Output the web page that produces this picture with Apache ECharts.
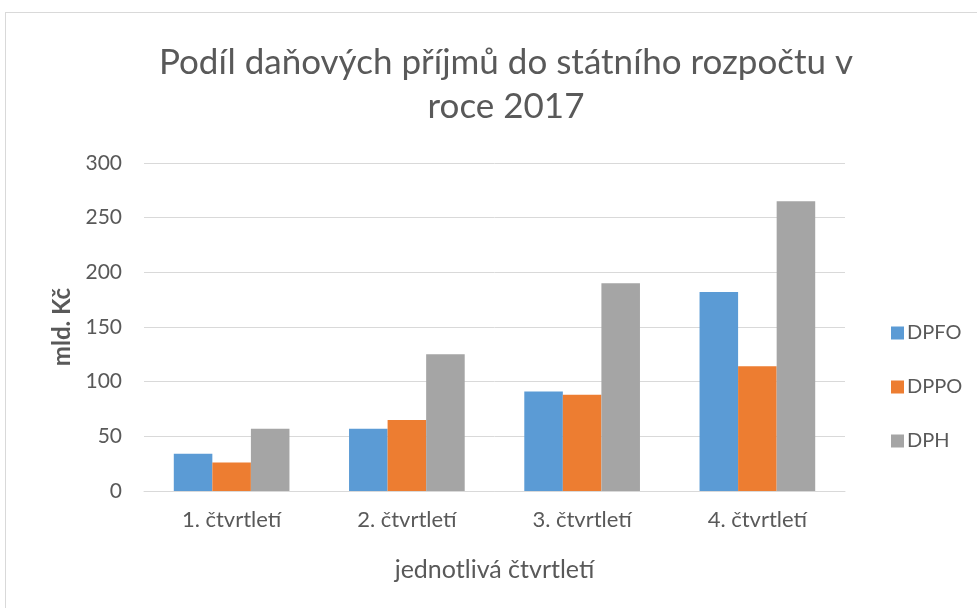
<!DOCTYPE html>
<html>
<head>
<meta charset="utf-8">
<script src="https://cdn.jsdelivr.net/npm/echarts@6/dist/echarts.min.js"></script>
<style>
  html, body { margin: 0; padding: 0; background: #fff; }
  #frame { position: absolute; left: 5px; top: 12px; width: 1000px; height: 700px; border: 1px solid #D9D9D9; box-sizing: border-box; }
  #chart { position: absolute; left: 0; top: 0; width: 977px; height: 608px; }
</style>
</head>
<body>
<div id="frame"></div>
<div id="chart"></div>
<script>
const titleText = 'Podíl daňových příjmů do státního rozpočtu v\nroce 2017';
const categories = ['1. čtvrtletí', '2. čtvrtletí', '3. čtvrtletí', '4. čtvrtletí'];
const dpfo = [34, 57, 91, 182];
const dppo = [26, 65, 88, 114];
const dph = [57, 125, 190, 265];
const yTicks = [0, 50, 100, 150, 200, 250, 300];
const xAxisName = 'jednotlivá čtvrtletí';
const yAxisName = 'mld. Kč';

const font = 'Lato, "Open Sans", sans-serif';
const chart = echarts.init(document.getElementById('chart'), null, { renderer: 'canvas' });
chart.setOption({
  animation: false,
  color: ['#5B9BD5', '#ED7D31', '#A5A5A5'],
  title: {
    text: titleText,
    left: 501, top: 36,
    textAlign: 'center',
    textStyle: { fontFamily: font, fontSize: 35, fontWeight: 'normal', color: '#595959', lineHeight: 44, align: 'center' }
  },
  legend: {
    orient: 'vertical',
    left: 886, top: 318,
    itemWidth: 13, itemHeight: 13, itemGap: 34,
    icon: 'rect',
    textStyle: { fontFamily: font, fontSize: 20, color: '#595959', padding: [0, 0, 0, -2] },
    data: ['DPFO', 'DPPO', 'DPH']
  },
  grid: { left: 144, right: 132, top: 163, bottom: 117, containLabel: false },
  xAxis: {
    type: 'category',
    data: categories,
    axisLine: { lineStyle: { color: '#D9D9D9', width: 1 } },
    axisTick: { show: false },
    axisLabel: { fontFamily: font, fontSize: 22, color: '#595959', margin: 18 },
    name: xAxisName,
    nameLocation: 'middle',
    nameGap: 66,
    nameTextStyle: { fontFamily: font, fontSize: 25, color: '#595959' }
  },
  yAxis: {
    type: 'value',
    min: yTicks[0], max: yTicks[yTicks.length - 1], interval: 50,
    axisLine: { show: false },
    axisTick: { show: false },
    splitLine: { lineStyle: { color: '#D9D9D9', width: 1 } },
    axisLabel: { fontFamily: font, fontSize: 21, color: '#595959', margin: 22 },
    name: yAxisName,
    nameLocation: 'middle',
    nameGap: 70,
    nameRotate: 90,
    nameTextStyle: { fontFamily: font, fontSize: 24, color: '#595959', fontWeight: 'bold' }
  },
  series: [
    { name: 'DPFO', type: 'bar', data: dpfo, barGap: '0%', barCategoryGap: '34%' },
    { name: 'DPPO', type: 'bar', data: dppo, barGap: '0%', barCategoryGap: '34%' },
    { name: 'DPH', type: 'bar', data: dph, barGap: '0%', barCategoryGap: '34%' }
  ]
});
</script>
</body>
</html>
